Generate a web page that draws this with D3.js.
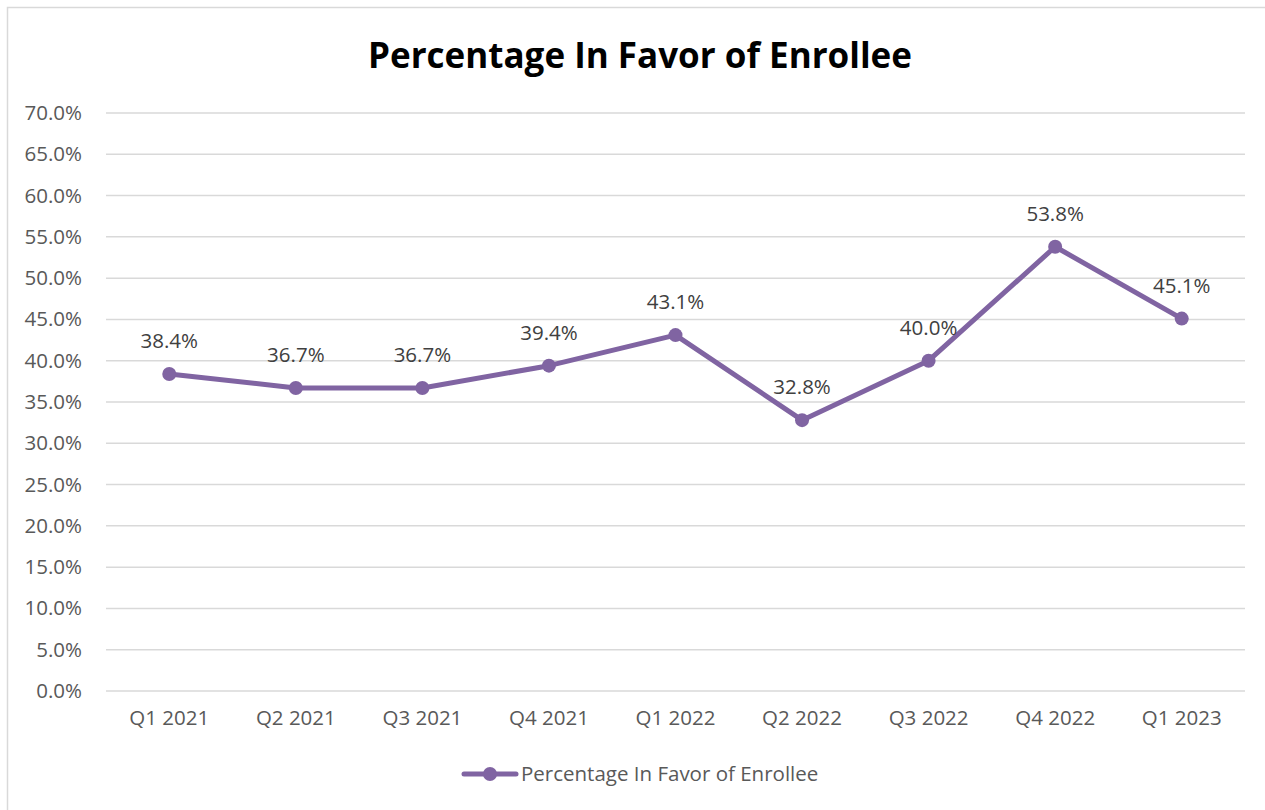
<!DOCTYPE html>
<html>
<head>
<meta charset="utf-8">
<script src="https://cdn.jsdelivr.net/npm/d3@7"></script>
<style>
  html, body { margin: 0; padding: 0; background: #fff; }
  svg { display: block; font-family: "Open Sans", Lato, sans-serif; }
</style>
</head>
<body>
<svg id="chart" width="1265" height="810"></svg>
<script>
// Quarterly share of decisions in favor of the enrollee
const quarters = ["Q1 2021", "Q2 2021", "Q3 2021", "Q4 2021", "Q1 2022", "Q2 2022", "Q3 2022", "Q4 2022", "Q1 2023"];
const percentInFavor = [38.4, 36.7, 36.7, 39.4, 43.1, 32.8, 40.0, 53.8, 45.1];
const yTicks = [0, 5, 10, 15, 20, 25, 30, 35, 40, 45, 50, 55, 60, 65, 70];
const seriesName = "Percentage In Favor of Enrollee";
const chartTitle = "Percentage In Favor of Enrollee";

const W = 1265, H = 810;
const margin = { left: 106, right: 20, top: 113, bottom: 119 };
const purple = "#8064a2";
const textGray = "#595959";
const fontFamily = "'Open Sans', Lato, sans-serif";
const labelSize = 20.5;

const svg = d3.select("#chart");

// chart-area frame
svg.append("rect")
  .attr("x", 7.5).attr("y", 7.5)
  .attr("width", W + 20).attr("height", H + 20)
  .attr("fill", "none").attr("stroke", "#d9d9d9").attr("stroke-width", 1.5);

const x = d3.scaleBand().domain(quarters).range([margin.left, W - margin.right]).paddingInner(0).paddingOuter(0);
const y = d3.scaleLinear().domain([0, 70]).range([H - margin.bottom, margin.top]);

// title
svg.append("text")
  .attr("x", 640).attr("y", 68)
  .attr("text-anchor", "middle")
  .attr("font-size", 35).attr("font-weight", "bold").attr("fill", "#000")
  .text(chartTitle);

// horizontal gridlines
svg.append("g").selectAll("line").data(yTicks).join("line")
  .attr("x1", margin.left).attr("x2", W - margin.right)
  .attr("y1", d => y(d)).attr("y2", d => y(d))
  .attr("stroke", "#d9d9d9").attr("stroke-width", 1.5);

// y axis labels
const yAxis = d3.axisLeft(y).tickValues(yTicks).tickSize(0).tickPadding(0)
  .tickFormat(d => d.toFixed(1) + "%");
const gy = svg.append("g").attr("transform", `translate(${82},0)`).call(yAxis);
gy.select(".domain").remove();
gy.selectAll("text").attr("font-size", labelSize).attr("fill", textGray).attr("font-family", fontFamily);

// x axis labels
const xAxis = d3.axisBottom(x).tickSize(0).tickPadding(0);
const gx = svg.append("g").attr("transform", `translate(0,${H - margin.bottom + 19})`).call(xAxis);
gx.select(".domain").remove();
gx.selectAll("text").attr("font-size", labelSize).attr("fill", textGray).attr("font-family", fontFamily);

const cx = d => x(d) + x.bandwidth() / 2;
const pts = quarters.map((q, i) => ({ q, v: percentInFavor[i] }));

// series line
svg.append("path")
  .datum(pts)
  .attr("fill", "none").attr("stroke", purple).attr("stroke-width", 5)
  .attr("stroke-linejoin", "round").attr("stroke-linecap", "round")
  .attr("d", d3.line().x(d => cx(d.q)).y(d => y(d.v)));

// markers
svg.append("g").selectAll("circle").data(pts).join("circle")
  .attr("cx", d => cx(d.q)).attr("cy", d => y(d.v)).attr("r", 7)
  .attr("fill", purple);

// data labels
svg.append("g").selectAll("text").data(pts).join("text")
  .attr("x", d => cx(d.q)).attr("y", d => y(d.v) - 26)
  .attr("text-anchor", "middle")
  .attr("font-size", labelSize).attr("fill", "#404040")
  .text(d => d.v.toFixed(1) + "%");

// legend
const lg = svg.append("g");
lg.append("line").attr("x1", 464).attr("x2", 516).attr("y1", 774).attr("y2", 774)
  .attr("stroke", purple).attr("stroke-width", 5).attr("stroke-linecap", "round");
lg.append("circle").attr("cx", 490).attr("cy", 774).attr("r", 7).attr("fill", purple);
lg.append("text").attr("x", 521).attr("y", 781)
  .attr("font-size", labelSize).attr("fill", textGray)
  .text(seriesName);
</script>
</body>
</html>
